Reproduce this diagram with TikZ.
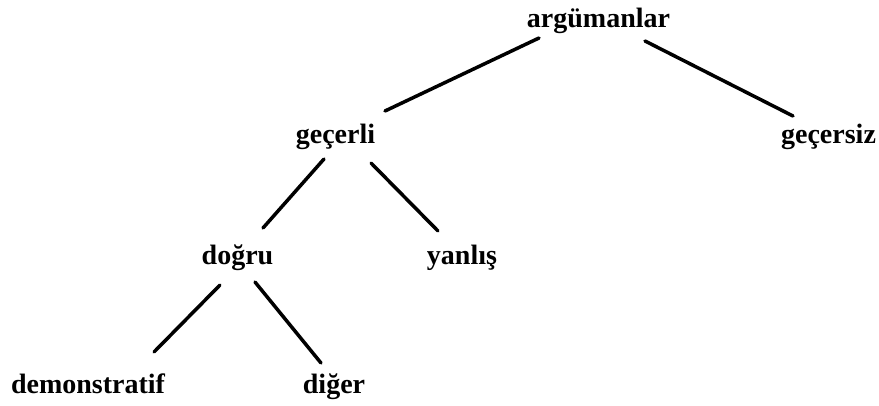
\documentclass[tikz,border=0pt]{standalone}
\usepackage{fontspec}
\setmainfont{Liberation Serif}
\usetikzlibrary{calc}
\begin{document}
\begin{tikzpicture}[x=1pt,y=-1pt,
  lbl/.style={anchor=base,inner sep=0pt,font=\fontsize{28}{34}\selectfont\bfseries},
  edge/.style={line width=3.5pt,line cap=round}]
\useasboundingbox[fill=white] (0,0) rectangle (879,405);
\node[lbl] (arg) at (598.5,27) {argümanlar};
\node[lbl] (gec) at (335.5,143) {geçerli};
\node[lbl] (gecs) at (828.5,143) {geçersiz};
\node[lbl] (dog) at (237.5,264) {doğru};
\node[lbl] (yan) at (462,264) {yanlış};
\node[lbl] (dem) at (88,393) {demonstratif};
\node[lbl] (dig) at (334,393) {diğer};
\draw[edge] ($(arg.base)+(-59.5,11)$) -- ($(gec.base)+(49.5,-32)$);
\draw[edge] ($(arg.base)+(46.5,14)$) -- ($(gecs.base)+(-35.5,-27)$);
\draw[edge] ($(gec.base)+(-11.5,16)$) -- ($(dog.base)+(25.5,-36)$);
\draw[edge] ($(gec.base)+(35.5,20)$) -- ($(yan.base)+(-24,-33)$);
\draw[edge] ($(dog.base)+(-17.5,21)$) -- ($(dem.base)+(66,-41)$);
\draw[edge] ($(dog.base)+(17.5,18)$) -- ($(dig.base)+(-13,-30)$);
\end{tikzpicture}
\end{document}
